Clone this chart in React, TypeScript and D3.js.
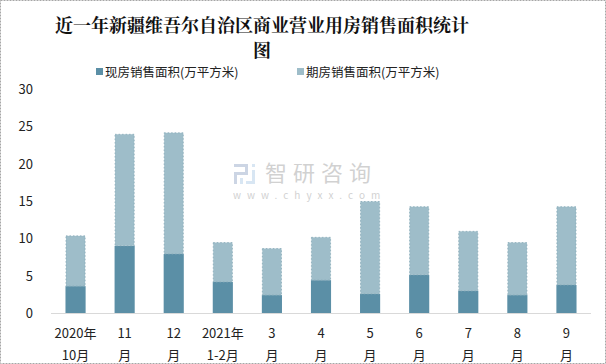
import React, { useRef, useEffect } from "react";
import * as d3 from "d3";

const categories = ["2020年|10月", "11|月", "12|月", "2021年|1-2月", "3|月", "4|月", "5|月", "6|月", "7|月", "8|月", "9|月"];
const spotArea = [3.6, 9.0, 7.9, 4.15, 2.4, 4.4, 2.55, 5.1, 2.95, 2.4, 3.75];
const presaleArea = [6.8, 15.0, 16.3, 5.35, 6.3, 5.8, 12.45, 9.2, 8.05, 7.1, 10.55];
const seriesNames = ["现房销售面积(万平方米)", "期房销售面积(万平方米)"];
const yTicks = [0, 5, 10, 15, 20, 25, 30];

const W = 606;
const H = 364;
const DARK = "#5b8fa6";
const LIGHT = "#9ebdc9";
const FONT = "'Noto Sans CJK SC', 'Noto Sans', sans-serif";

const App = () => {
  const chartRef = useRef<SVGSVGElement>(null);

  useEffect(() => {
    const svg = d3.select(chartRef.current);
    svg.selectAll("*").remove();

    const margin = { top: 89, right: 15, bottom: 51, left: 51 };
    const width = W - margin.left - margin.right;
    const height = H - margin.top - margin.bottom;

    // outer dashed frame
    svg.append("rect")
      .attr("x", 0.5).attr("y", 0.5)
      .attr("width", W - 1).attr("height", H - 1)
      .attr("fill", "white")
      .attr("stroke", "#a6a6a6")
      .attr("stroke-dasharray", "2,1");

    // title
    const title = svg.append("text")
      .attr("text-anchor", "middle")
      .style("font-family", "'Noto Serif CJK SC', 'DejaVu Serif', serif")
      .style("font-weight", "bold")
      .style("font-size", "18px")
      .attr("fill", "#111");
    title.append("tspan").attr("x", 262).attr("y", 32).text("近一年新疆维吾尔自治区商业营业用房销售面积统计");
    title.append("tspan").attr("x", 262).attr("y", 57).text("图");

    // legend
    const legendX = [96, 297];
    seriesNames.forEach((name, i) => {
      svg.append("rect")
        .attr("x", legendX[i]).attr("y", 68)
        .attr("width", 7).attr("height", 7)
        .attr("fill", i === 0 ? DARK : LIGHT);
      svg.append("text")
        .attr("x", legendX[i] + 9).attr("y", 77)
        .style("font-family", FONT)
        .style("font-size", "12.5px")
        .attr("fill", "#222")
        .text(name);
    });

    // watermark (logo drawn with shapes + text)
    const wm = svg.append("g").attr("opacity", 0.45);
    const logo = wm.append("g").attr("fill", "#8fa4c4");
    logo.append("rect").attr("x", 234).attr("y", 164).attr("width", 14).attr("height", 3);
    logo.append("rect").attr("x", 245).attr("y", 164).attr("width", 3).attr("height", 10);
    logo.append("rect").attr("x", 234).attr("y", 172).attr("width", 14).attr("height", 3);
    logo.append("rect").attr("x", 234).attr("y", 172).attr("width", 3).attr("height", 12);
    logo.append("rect").attr("x", 240).attr("y", 178).attr("width", 3).attr("height", 6).attr("fill", "#a9c8e6");
    logo.append("rect").attr("x", 252).attr("y", 164).attr("width", 3).attr("height", 3).attr("fill", "#a9c8e6");
    logo.append("rect").attr("x", 252).attr("y", 170).attr("width", 3).attr("height", 14).attr("fill", "#a9c8e6");
    logo.append("rect").attr("x", 246).attr("y", 181).attr("width", 9).attr("height", 3).attr("fill", "#a9c8e6");
    wm.append("text")
      .attr("x", 265).attr("y", 181)
      .style("font-family", FONT)
      .style("font-size", "22px")
      .attr("fill", "#9a9a9a")
      .attr("letter-spacing", "6px")
      .text("智研咨询");
    wm.append("text")
      .attr("x", 233).attr("y", 199)
      .style("font-family", FONT)
      .style("font-size", "10px")
      .attr("fill", "#9a9a9a")
      .attr("letter-spacing", "6px")
      .text("www.chyxx.com");

    const g = svg.append("g").attr("transform", `translate(${margin.left},${margin.top})`);

    const x = d3.scaleBand()
      .domain(categories)
      .range([0, width])
      .paddingInner(0.59)
      .paddingOuter(0.295);

    const y = d3.scaleLinear().domain([0, 30]).range([height, 0]);

    // y labels
    g.selectAll(".ytick")
      .data(yTicks)
      .enter()
      .append("text")
      .attr("x", -18)
      .attr("y", (d) => y(d) + 5)
      .attr("text-anchor", "end")
      .style("font-family", FONT)
      .style("font-size", "13px")
      .attr("fill", "#222")
      .text((d) => d);

    const rows = categories.map((c, i) => ({ c, spot: spotArea[i], pre: presaleArea[i] }));

    g.selectAll(".spot")
      .data(rows)
      .enter()
      .append("rect")
      .attr("x", (d) => x(d.c)!)
      .attr("y", (d) => y(d.spot))
      .attr("width", x.bandwidth())
      .attr("height", (d) => height - y(d.spot))
      .attr("fill", DARK);

    g.selectAll(".pre")
      .data(rows)
      .enter()
      .append("rect")
      .attr("x", (d) => x(d.c)! + 0.5)
      .attr("y", (d) => y(d.spot + d.pre) + 0.5)
      .attr("width", x.bandwidth() - 1)
      .attr("height", (d) => y(d.spot) - y(d.spot + d.pre) - 0.5)
      .attr("fill", LIGHT)
      .attr("stroke", "#86a9b8")
      .attr("stroke-width", 0.8)
      .attr("stroke-dasharray", "1.5,2");

    // x axis line
    g.append("line")
      .attr("x1", 0).attr("x2", width)
      .attr("y1", height + 0.5).attr("y2", height + 0.5)
      .attr("stroke", "#d9d9d9");

    // x labels
    const xl = g.selectAll(".xlab")
      .data(categories)
      .enter()
      .append("text")
      .attr("text-anchor", "middle")
      .style("font-family", FONT)
      .style("font-size", "13px")
      .attr("fill", "#222");
    xl.append("tspan")
      .attr("x", (d) => x(d)! + x.bandwidth() / 2)
      .attr("y", height + 25)
      .text((d) => d.split("|")[0]);
    xl.append("tspan")
      .attr("x", (d) => x(d)! + x.bandwidth() / 2)
      .attr("y", height + 47)
      .text((d) => d.split("|")[1]);
  }, []);

  return (
    <div style={{ position: "absolute", left: 0, top: 0 }}>
      <svg ref={chartRef} width={W} height={H} style={{ display: "block" }}></svg>
    </div>
  );
};

export default App;
